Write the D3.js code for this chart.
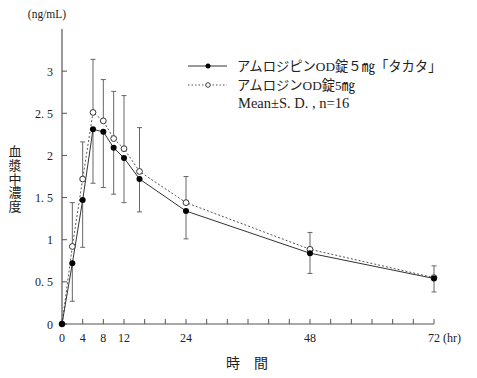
<!DOCTYPE html>
<html><head><meta charset="utf-8">
<script src="https://cdn.jsdelivr.net/npm/d3@7"></script>
<style>
body{margin:0;background:#fff;}
svg{display:block;}
text{font-family:"Liberation Serif","Noto Sans CJK JP",serif;fill:#222;}
.jp{font-family:"Noto Sans CJK JP",sans-serif;}
</style></head>
<body>
<script>
const times = [0, 2, 4, 6, 8, 10, 12, 15, 24, 48, 72];
const takata = [0, 0.72, 1.47, 2.31, 2.28, 2.09, 1.97, 1.72, 1.34, 0.84, 0.54];
const takataSD = [0, 0.45, 0.56, 0.64, 0.66, 0.55, 0.53, 0.39, 0.33, 0.24, 0.16];
const amlodin = [0, 0.92, 1.72, 2.51, 2.41, 2.20, 2.08, 1.81, 1.44, 0.886, 0.55];
const amlodinSD = [0, 0.52, 0.44, 0.63, 0.49, 0.56, 0.63, 0.52, 0.31, 0.20, 0.14];
const xTickValues = d3.range(0, 73, 4);
const xTickLabels = [0, 4, 8, 12, 24, 48, 72];
const yTickValues = [0, 0.5, 1, 1.5, 2, 2.5, 3];
const seriesNames = ["アムロジピンOD錠５㎎「タカタ」", "アムロジンOD錠5㎎"];
const noteText = "Mean±S. D. , n=16";
const yTitle = "血漿中濃度";
const xTitle = "時　間";
const yUnit = "(ng/mL)";
const xUnit = "(hr)";

const W = 477, H = 378;
const svg = d3.select("body").append("svg").attr("width", W).attr("height", H);
const x = d3.scaleLinear().domain([0, 72]).range([62, 434]);
const y = d3.scaleLinear().domain([0, 3.5]).range([324, 29]);
const axisCol = "#555";

// axes lines
svg.append("line").attr("x1", x(0)).attr("x2", x(72)).attr("y1", y(0)).attr("y2", y(0))
  .attr("stroke", axisCol).attr("stroke-width", 1.2);
svg.append("line").attr("x1", x(0)).attr("x2", x(0)).attr("y1", y(0)).attr("y2", y(3.5))
  .attr("stroke", axisCol).attr("stroke-width", 1.2);

// x ticks
svg.append("g").selectAll("line").data(xTickValues).join("line")
  .attr("x1", d => x(d)).attr("x2", d => x(d)).attr("y1", y(0)).attr("y2", y(0) - 5)
  .attr("stroke", axisCol).attr("stroke-width", 1);
svg.append("g").selectAll("text").data(xTickLabels).join("text")
  .attr("x", d => x(d)).attr("y", 342).attr("text-anchor", "middle")
  .attr("font-size", 12).text(d => d);
svg.append("text").attr("x", 443).attr("y", 342).attr("font-size", 12).text(xUnit);

// y ticks
svg.append("g").selectAll("line").data(yTickValues).join("line")
  .attr("x1", x(0)).attr("x2", x(0) + 5).attr("y1", d => y(d)).attr("y2", d => y(d))
  .attr("stroke", axisCol).attr("stroke-width", 1);
svg.append("g").selectAll("text").data(yTickValues).join("text")
  .attr("x", 53).attr("y", d => y(d) + 4.5).attr("text-anchor", "end")
  .attr("font-size", 12).text(d => d === Math.floor(d) ? String(d) : String(d).replace(".", ". "));
svg.append("text").attr("x", 47).attr("y", 18).attr("text-anchor", "middle")
  .attr("font-size", 11.5).text(yUnit);

// titles
svg.append("text").attr("class", "jp")
  .attr("x", 15).attr("y", 179)
  .attr("text-anchor", "middle")
  .style("writing-mode", "vertical-rl")
  .style("text-orientation", "upright")
  .style("letter-spacing", "0.6px")
  .attr("font-size", 13).text(yTitle);
svg.append("text").attr("class", "jp").attr("x", 247).attr("y", 368)
  .attr("text-anchor", "middle").attr("font-size", 14).text(xTitle);

// error bars
const eb = svg.append("g").attr("stroke", "#666").attr("stroke-width", 1);
times.forEach((t, i) => {
  if (t === 0) return;
  const xp = x(t);
  const top = y(amlodin[i] + amlodinSD[i]);
  const bot = y(takata[i] - takataSD[i]);
  eb.append("line").attr("x1", xp).attr("x2", xp).attr("y1", y(amlodin[i])).attr("y2", top);
  eb.append("line").attr("x1", xp - 2.5).attr("x2", xp + 2.5).attr("y1", top).attr("y2", top);
  eb.append("line").attr("x1", xp).attr("x2", xp).attr("y1", y(takata[i])).attr("y2", bot);
  eb.append("line").attr("x1", xp - 2.5).attr("x2", xp + 2.5).attr("y1", bot).attr("y2", bot);
});

// lines
const lineGen = vals => d3.line().x((d, i) => x(times[i])).y(d => y(d))(vals);
svg.append("path").attr("d", lineGen(amlodin)).attr("fill", "none")
  .attr("stroke", "#555").attr("stroke-width", 1).attr("stroke-dasharray", "2,2");
svg.append("path").attr("d", lineGen(takata)).attr("fill", "none")
  .attr("stroke", "#333").attr("stroke-width", 1);

// markers
svg.append("g").selectAll("circle").data(amlodin).join("circle")
  .attr("cx", (d, i) => x(times[i])).attr("cy", d => y(d)).attr("r", 2.9)
  .attr("fill", "#fff").attr("stroke", "#333").attr("stroke-width", 1);
svg.append("g").selectAll("circle").data(takata).join("circle")
  .attr("cx", (d, i) => x(times[i])).attr("cy", d => y(d)).attr("r", 3)
  .attr("fill", "#000");

// legend
const lg = svg.append("g");
lg.append("line").attr("x1", 188).attr("x2", 227).attr("y1", 66).attr("y2", 66)
  .attr("stroke", "#333").attr("stroke-width", 1);
lg.append("circle").attr("cx", 208).attr("cy", 66).attr("r", 2.5).attr("fill", "#000");
lg.append("line").attr("x1", 188).attr("x2", 227).attr("y1", 85).attr("y2", 85)
  .attr("stroke", "#555").attr("stroke-width", 1).attr("stroke-dasharray", "1.5,2");
lg.append("circle").attr("cx", 208).attr("cy", 85).attr("r", 2.3)
  .attr("fill", "#fff").attr("stroke", "#333").attr("stroke-width", 0.9);
lg.append("text").attr("x", 237).attr("y", 71).attr("font-size", 13.3).text(seriesNames[0]);
lg.append("text").attr("x", 237).attr("y", 90).attr("font-size", 13.3).text(seriesNames[1]);
lg.append("text").attr("x", 238).attr("y", 108).attr("font-size", 14.5).text(noteText);
</script>
</body></html>
